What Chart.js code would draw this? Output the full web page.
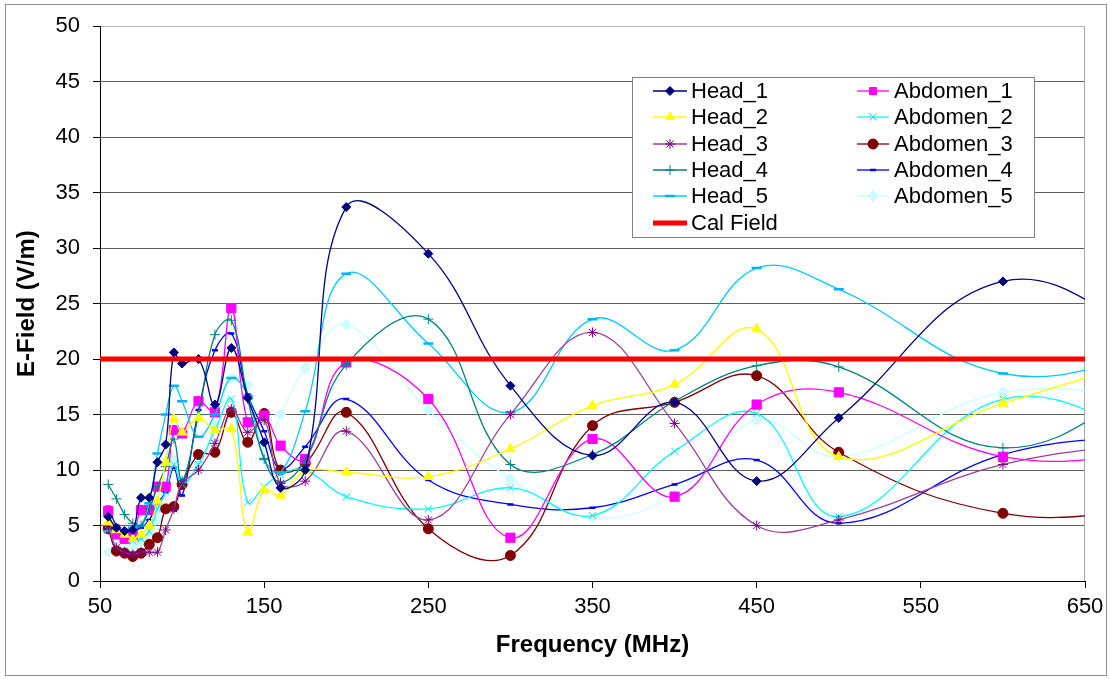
<!DOCTYPE html>
<html>
<head>
<meta charset="utf-8">
<script src="https://cdn.jsdelivr.net/npm/chart.js@4.4.1/dist/chart.umd.min.js"></script>
<style>
html, body { margin: 0; padding: 0; background: #fff; }
</style>
</head>
<body>
<canvas id="EFieldChart" width="1110" height="679"></canvas>
<script>
// frequencies (MHz); 700 lies past the axis end and only shapes the curve to the edge
const freqMHz = [55,60,65,70,75,80,85,90,95,100,110,120,130,140,150,160,175,200,250,300,350,400,450,500,600,700];

const head1 = [5.8,4.8,4.5,4.6,7.5,7.5,10.7,12.3,20.6,19.6,20.0,15.9,21.0,16.5,12.5,8.4,10.0,33.7,29.5,17.6,11.3,16.1,9.0,14.7,27.0,21.5];
const head2 = [5.3,4.6,4.2,3.8,4.2,5.0,7.2,10.7,14.6,13.4,14.7,13.6,13.7,4.4,8.2,7.7,9.9,9.8,9.4,11.9,15.8,17.7,22.7,11.2,16.0,20.5];
const head3 = [4.9,3.0,2.6,2.4,2.6,2.6,2.6,4.6,6.5,8.8,10.0,12.4,15.5,13.4,14.5,8.8,9.0,13.5,5.5,15.0,22.4,14.2,5.0,5.5,10.5,12.7];
const head4 = [8.7,7.4,6.0,5.2,5.0,6.5,8.5,10.3,12.8,9.0,15.0,22.2,23.5,16.4,11.0,8.9,10.9,19.5,23.6,10.5,11.4,16.2,19.4,19.3,12.0,18.6];
const head5 = [4.5,4.6,4.6,4.8,5.0,7.0,11.5,15.0,17.6,16.2,13.0,15.0,18.3,16.7,11.0,9.8,15.3,27.7,21.4,15.2,23.6,20.8,28.2,26.3,18.7,20.6];
const abdomen1 = [6.3,4.2,3.8,4.1,6.4,6.4,8.5,8.5,13.6,13.3,16.2,15.2,24.6,14.3,14.9,12.2,11.0,19.7,16.4,3.9,12.8,7.6,15.9,17.0,11.2,11.5];
const abdomen2 = [4.6,4.3,3.8,3.6,3.8,4.5,6.5,8.0,10.5,8.7,10.5,13.6,16.4,7.1,8.5,9.6,10.0,7.6,6.5,8.4,5.9,11.7,15.1,5.8,16.4,12.6];
const abdomen3 = [4.7,2.7,2.5,2.2,2.5,3.3,3.9,6.5,6.7,8.7,11.4,11.6,15.2,12.5,15.1,10.0,10.6,15.2,4.7,2.3,14.0,16.1,18.5,11.6,6.1,6.5];
const abdomen4 = [6.7,5.0,4.5,4.5,4.8,5.5,7.0,8.0,10.2,7.7,15.4,20.8,22.3,16.8,13.5,10.1,12.1,16.4,9.1,6.9,6.6,8.7,10.9,5.2,11.4,13.4];
const abdomen5 = [2.6,3.1,2.8,3.0,3.5,4.0,5.5,8.9,10.9,9.0,10.6,14.0,18.3,17.7,12.0,15.0,19.2,23.1,15.4,9.2,5.7,7.8,14.5,11.2,17.0,16.4];

const calFreq = [50, 650];
const calField = [20, 20];

const series = [
	{label:'Head_1', values:head1, line:'#000080', mark:'#000080', fill:'#000080', style:'rectRot', r:4.5, bw:1},
	{label:'Head_2', values:head2, line:'#ffff00', mark:'#ffff00', fill:'#ffff00', style:'triangle', r:5.5, bw:1},
	{label:'Head_3', values:head3, line:'#9a3f9a', mark:'#800080', fill:'#800080', style:'star', r:5, bw:1},
	{label:'Head_4', values:head4, line:'#008080', mark:'#008080', fill:'#008080', style:'cross', r:5, bw:1},
	{label:'Head_5', values:head5, line:'#00ccff', mark:'#00b4ff', fill:'#00ccff', style:'line', r:5, bw:2.5},
	{label:'Abdomen_1', values:abdomen1, line:'#ff00ff', mark:'#ff00ff', fill:'#ff00ff', style:'rect', r:6.5, bw:1},
	{label:'Abdomen_2', values:abdomen2, line:'#00ffff', mark:'#00e8ff', fill:'#00ffff', style:'crossRot', r:5, bw:1},
	{label:'Abdomen_3', values:abdomen3, line:'#800000', mark:'#800000', fill:'#800000', style:'circle', r:5, bw:1},
	{label:'Abdomen_4', values:abdomen4, line:'#0000ff', mark:'#0000ff', fill:'#0000ff', style:'line', r:3, bw:2.5},
	{label:'Abdomen_5', values:abdomen5, line:'#ccffff', mark:'#b8fbff', fill:'#ccffff', style:'rectRot', r:5, bw:1}
];

const datasets = series.map(s => ({
	label: s.label,
	data: s.values.map((v, i) => ({x: freqMHz[i], y: v})),
	borderColor: s.line,
	backgroundColor: s.fill,
	pointBorderColor: s.mark,
	pointBackgroundColor: s.fill,
	pointStyle: s.style,
	pointRadius: s.r,
	pointBorderWidth: s.bw,
	borderWidth: 1.3,
	tension: 0.4,
	order: 1
}));

datasets.push({
	label: 'Cal Field',
	data: calFreq.map((f, i) => ({x: f, y: calField[i]})),
	borderColor: '#ff0000',
	backgroundColor: '#ff0000',
	borderWidth: 5,
	pointRadius: 0,
	tension: 0,
	order: 0
});

// white page, outer frame, plot frame
const frame = {
	id: 'frame',
	beforeDraw(chart) {
		const ctx = chart.ctx;
		ctx.save();
		ctx.fillStyle = '#fff';
		ctx.fillRect(0, 0, chart.width, chart.height);
		ctx.strokeStyle = '#8c8c8c';
		ctx.lineWidth = 1;
		ctx.strokeRect(5.5, 4.5, 1101, 671);
		ctx.restore();
	},
	beforeDatasetsDraw(chart) {
		const a = chart.chartArea, ctx = chart.ctx;
		ctx.save();
		ctx.strokeStyle = '#a8a8a8';
		ctx.lineWidth = 1;
		ctx.beginPath();
		ctx.moveTo(a.right - 0.5, a.top);
		ctx.lineTo(a.right - 0.5, a.bottom);
		ctx.stroke();
		ctx.restore();
	}
};

// legend box inside the plot, two columns like the original
const legendBox = {
	id: 'legendBox',
	afterDraw(chart) {
		const ctx = chart.ctx;
		const bx = 632, by = 77, bw = 402, bh = 160;
		const rows = [91, 117, 144, 170, 196, 223];
		ctx.save();
		ctx.fillStyle = '#fff';
		ctx.fillRect(bx, by, bw, bh);
		ctx.strokeStyle = '#808080';
		ctx.lineWidth = 1;
		ctx.strokeRect(bx + 0.5, by + 0.5, bw, bh);
		ctx.font = '22px "Liberation Sans", Arial, sans-serif';
		ctx.textBaseline = 'middle';
		chart.data.datasets.forEach((ds, i) => {
			let col, row;
			if (i < 5) { col = 0; row = i; }
			else if (i < 10) { col = 1; row = i - 5; }
			else { col = 0; row = 5; }
			const x1 = col ? 857 : 653, x2 = col ? 889 : 687, tx = col ? 894 : 691;
			const y = rows[row];
			ctx.strokeStyle = ds.borderColor;
			ctx.lineWidth = ds.borderWidth;
			ctx.beginPath();
			ctx.moveTo(x1, y);
			ctx.lineTo(x2, y);
			ctx.stroke();
			if (ds.pointRadius > 0 && Chart.helpers && Chart.helpers.drawPoint) {
				ctx.fillStyle = ds.pointBackgroundColor;
				ctx.strokeStyle = ds.pointBorderColor;
				ctx.lineWidth = ds.pointBorderWidth;
				Chart.helpers.drawPoint(ctx, {
					pointStyle: ds.pointStyle,
					radius: Math.min(ds.pointRadius, 5),
					rotation: 0,
					borderWidth: ds.pointBorderWidth
				}, (x1 + x2) / 2, y);
			}
			ctx.fillStyle = '#000';
			ctx.fillText(ds.label, tx, y + 1);
		});
		ctx.restore();
	}
};

Chart.defaults.font.family = '"Liberation Sans", Arial, sans-serif';
Chart.defaults.color = '#000';

new Chart(document.getElementById('EFieldChart'), {
	type: 'line',
	data: { datasets: datasets },
	plugins: [frame, legendBox],
	options: {
		responsive: false,
		animation: false,
		layout: { padding: { left: 5, top: 24, right: 25, bottom: 0 } },
		elements: { line: { capBezierPoints: false } },
		plugins: {
			legend: { display: false },
			tooltip: { enabled: false }
		},
		scales: {
			x: {
				type: 'linear',
				min: 50,
				max: 650,
				ticks: { stepSize: 100, font: { size: 22 }, padding: 6, maxRotation: 0 },
				grid: { drawOnChartArea: false, tickColor: '#000', tickLength: 7 },
				border: { color: '#000', width: 1 },
				title: { display: true, text: 'Frequency (MHz)', font: { size: 24, weight: 'bold' }, padding: { top: 0, bottom: 19 } },
				afterFit(scale) { scale.height = 98; }
			},
			y: {
				min: 0,
				max: 50,
				ticks: { stepSize: 5, font: { size: 22 }, padding: 13 },
				grid: {
					color: c => (c.tick && c.tick.value === 50) ? '#b4b4b4' : '#606060',
					tickColor: '#000',
					tickLength: 7
				},
				border: { color: '#000', width: 1 },
				title: { display: true, text: 'E-Field (V/m)', font: { size: 24, weight: 'bold' }, padding: { top: 8, bottom: 0 } },
				afterFit(scale) { scale.width = 95; }
			}
		}
	}
});
</script>
</body>
</html>
